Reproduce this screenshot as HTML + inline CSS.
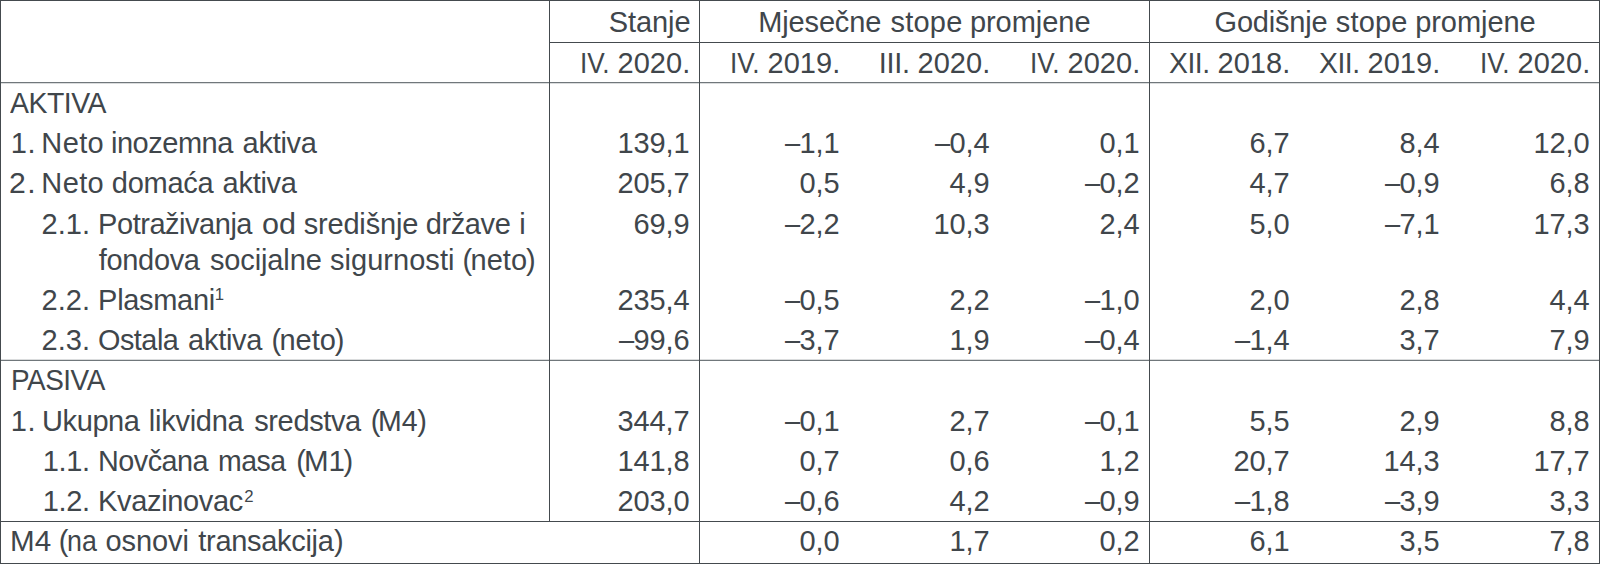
<!DOCTYPE html>
<html lang="hr"><head><meta charset="utf-8"><title>Monetarna kretanja</title>
<style>
html,body{margin:0;padding:0;background:#fff;}
body{width:1600px;height:564px;position:relative;overflow:hidden;font-family:"Liberation Sans",sans-serif;font-size:29.0px;color:#40464b;font-kerning:normal;}
.t{position:absolute;white-space:nowrap;line-height:1;height:29.0px;transform-origin:0 50%;}
.d{transform:scaleX(.94);transform-origin:100% 50%;}
.ln{position:absolute;background:#444a4e;}
</style></head><body>
<div class="ln" style="left:0;top:83px;width:1600px;height:1px;background:#dadcdd"></div>
<div class="ln" style="left:0;top:82px;width:1600px;height:1px;background:#70777b"></div>
<div class="ln" style="left:0;top:359px;width:1600px;height:1px;background:#dadcdd"></div>
<div class="ln" style="left:0;top:360px;width:1600px;height:1px;background:#70777b"></div>
<div class="ln" style="left:0px;top:0px;width:1600px;height:1px"></div>
<div class="ln" style="left:0px;top:563px;width:1600px;height:1px"></div>
<div class="ln" style="left:0px;top:0px;width:1px;height:564px"></div>
<div class="ln" style="left:1599px;top:0px;width:1px;height:564px"></div>
<div class="ln" style="left:549px;top:42px;width:1051px;height:1px"></div>
<div class="ln" style="left:0px;top:521px;width:1600px;height:1px"></div>
<div class="ln" style="left:549px;top:0px;width:1px;height:522px"></div>
<div class="ln" style="left:699px;top:0px;width:1px;height:564px"></div>
<div class="ln" style="left:1149px;top:0px;width:1px;height:564px"></div>
<div class="t" style="left:608.78px;top:8px;letter-spacing:-0.086px">Stanje</div>
<div class="t" style="left:758.37px;top:8px;letter-spacing:-0.173px">Mjesečne</div>
<div class="t" style="left:890.44px;top:8px;letter-spacing:0.223px">stope</div>
<div class="t" style="left:969.88px;top:8px;letter-spacing:-0.036px">promjene</div>
<div class="t" style="left:1214.54px;top:8px;letter-spacing:-0.210px">Godišnje</div>
<div class="t" style="left:1335.79px;top:8px;letter-spacing:0.186px">stope</div>
<div class="t" style="left:1415.13px;top:8px;letter-spacing:-0.050px">promjene</div>
<div class="t" style="left:580.48px;top:49px;transform:scaleX(0.9027)">IV.</div>
<div class="t" style="left:617.44px;top:49px;letter-spacing:0.082px">2020.</div>
<div class="t" style="left:730.48px;top:49px;transform:scaleX(0.9027)">IV.</div>
<div class="t" style="left:767.44px;top:49px;letter-spacing:0.082px">2019.</div>
<div class="t" style="left:878.82px;top:49px;letter-spacing:-0.337px">III.</div>
<div class="t" style="left:917.44px;top:49px;letter-spacing:0.082px">2020.</div>
<div class="t" style="left:1030.48px;top:49px;transform:scaleX(0.9027)">IV.</div>
<div class="t" style="left:1067.44px;top:49px;letter-spacing:0.082px">2020.</div>
<div class="t" style="left:1168.56px;top:49px;letter-spacing:-0.500px;transform:scaleX(0.9789)">XII.</div>
<div class="t" style="left:1217.44px;top:49px;letter-spacing:0.082px">2018.</div>
<div class="t" style="left:1318.56px;top:49px;letter-spacing:-0.500px;transform:scaleX(0.9789)">XII.</div>
<div class="t" style="left:1367.44px;top:49px;letter-spacing:0.082px">2019.</div>
<div class="t" style="left:1480.48px;top:49px;transform:scaleX(0.9027)">IV.</div>
<div class="t" style="left:1517.44px;top:49px;letter-spacing:0.082px">2020.</div>
<div class="t" style="left:9.84px;top:89px;letter-spacing:-0.500px;transform:scaleX(0.9798)">AKTIVA</div>
<div class="t" style="left:10.79px;top:129px;letter-spacing:0.669px">1.</div>
<div class="t" style="left:41.37px;top:129px;letter-spacing:0.360px">Neto</div>
<div class="t" style="left:111.06px;top:129px;letter-spacing:-0.500px">inozemna</div>
<div class="t" style="left:242.52px;top:129px;letter-spacing:-0.257px">aktiva</div>
<div class="t" style="left:9.23px;top:169px;letter-spacing:1.300px;transform:scaleX(1.0406)">2.</div>
<div class="t" style="left:41.37px;top:169px;letter-spacing:0.360px">Neto</div>
<div class="t" style="left:111.78px;top:169px;letter-spacing:-0.241px">domaća</div>
<div class="t" style="left:222.52px;top:169px;letter-spacing:-0.257px">aktiva</div>
<div class="t" style="left:41.54px;top:210px;letter-spacing:0.077px">2.1.</div>
<div class="t" style="left:98.12px;top:210px;letter-spacing:-0.474px">Potraživanja</div>
<div class="t" style="left:261.72px;top:210px;transform:scaleX(1.0539)">od</div>
<div class="t" style="left:303.69px;top:210px;letter-spacing:-0.183px">središnje</div>
<div class="t" style="left:425.78px;top:210px;letter-spacing:-0.408px">države</div>
<div class="t" style="left:519.28px;top:210px">i</div>
<div class="t" style="left:98.84px;top:246px;letter-spacing:-0.340px">fondova</div>
<div class="t" style="left:209.94px;top:246px;letter-spacing:-0.125px">socijalne</div>
<div class="t" style="left:329.94px;top:246px;letter-spacing:0.043px">sigurnosti</div>
<div class="t" style="left:462.45px;top:246px">(</div>
<div class="t" style="left:525.88px;top:246px">)</div>
<div class="t" style="left:470.52px;top:246px;letter-spacing:0.030px">neto</div>
<div class="t" style="left:41.54px;top:286px;letter-spacing:0.077px">2.2.</div>
<div class="t" style="left:98.12px;top:286px;letter-spacing:-0.314px">Plasmani</div>
<div class="t" style="left:41.54px;top:326px;letter-spacing:0.077px">2.3.</div>
<div class="t" style="left:97.88px;top:326px;letter-spacing:-0.500px;transform:scaleX(0.9943)">Ostala</div>
<div class="t" style="left:188.02px;top:326px;letter-spacing:-0.257px">aktiva</div>
<div class="t" style="left:271.45px;top:326px">(</div>
<div class="t" style="left:334.63px;top:326px">)</div>
<div class="t" style="left:279.52px;top:326px;letter-spacing:-0.053px">neto</div>
<div class="t" style="left:11.01px;top:366px;letter-spacing:-0.500px;transform:scaleX(0.9620)">PASIVA</div>
<div class="t" style="left:10.79px;top:407px;letter-spacing:0.669px">1.</div>
<div class="t" style="left:42.01px;top:407px;letter-spacing:-0.396px">Ukupna</div>
<div class="t" style="left:148.80px;top:407px;letter-spacing:-0.252px">likvidna</div>
<div class="t" style="left:254.19px;top:407px;letter-spacing:-0.365px">sredstva</div>
<div class="t" style="left:370.70px;top:407px">(</div>
<div class="t" style="left:417.13px;top:407px">)</div>
<div class="t" style="left:378.36px;top:407px;transform:scaleX(0.9820)">M4</div>
<div class="t" style="left:42.79px;top:447px;letter-spacing:-0.339px">1.1.</div>
<div class="t" style="left:98.14px;top:447px;letter-spacing:-0.500px;transform:scaleX(0.9923)">Novčana</div>
<div class="t" style="left:218.11px;top:447px;letter-spacing:-0.500px;transform:scaleX(0.9815)">masa</div>
<div class="t" style="left:296.20px;top:447px">(</div>
<div class="t" style="left:343.38px;top:447px">)</div>
<div class="t" style="left:303.78px;top:447px;transform:scaleX(1.0178)">M1</div>
<div class="t" style="left:42.79px;top:487px;letter-spacing:-0.339px">1.2.</div>
<div class="t" style="left:98.12px;top:487px;letter-spacing:-0.352px">Kvazinovac</div>
<div class="t" style="left:9.77px;top:527px;transform:scaleX(1.0197)">M4</div>
<div class="t" style="left:58.70px;top:527px">(</div>
<div class="t" style="left:66.92px;top:527px;transform:scaleX(0.9229)">na</div>
<div class="t" style="left:105.53px;top:527px;letter-spacing:-0.081px">osnovi</div>
<div class="t" style="left:333.88px;top:527px">)</div>
<div class="t" style="left:198.31px;top:527px;letter-spacing:-0.309px">transakcija</div>
<div class="t" style="left:214.81px;top:287px;font-size:16.76px;height:16.76px">1</div>
<div class="t" style="left:244.19px;top:489px;font-size:16.76px;height:16.76px">2</div>
<div class="t" style="left:617.43px;top:129px;letter-spacing:-0.100px">139,1</div>
<div class="t" style="left:799.49px;top:129px;letter-spacing:-0.100px">1,1</div>
<div class="t d" style="left:783.56px;top:129px">–</div>
<div class="t" style="left:949.49px;top:129px;letter-spacing:-0.100px">0,4</div>
<div class="t d" style="left:933.56px;top:129px">–</div>
<div class="t" style="left:1099.49px;top:129px;letter-spacing:-0.100px">0,1</div>
<div class="t" style="left:1249.49px;top:129px;letter-spacing:-0.100px">6,7</div>
<div class="t" style="left:1399.49px;top:129px;letter-spacing:-0.100px">8,4</div>
<div class="t" style="left:1533.46px;top:129px;letter-spacing:-0.100px">12,0</div>
<div class="t" style="left:617.43px;top:169px;letter-spacing:-0.100px">205,7</div>
<div class="t" style="left:799.49px;top:169px;letter-spacing:-0.100px">0,5</div>
<div class="t" style="left:949.49px;top:169px;letter-spacing:-0.100px">4,9</div>
<div class="t" style="left:1099.49px;top:169px;letter-spacing:-0.100px">0,2</div>
<div class="t d" style="left:1083.56px;top:169px">–</div>
<div class="t" style="left:1249.49px;top:169px;letter-spacing:-0.100px">4,7</div>
<div class="t" style="left:1399.49px;top:169px;letter-spacing:-0.100px">0,9</div>
<div class="t d" style="left:1383.56px;top:169px">–</div>
<div class="t" style="left:1549.49px;top:169px;letter-spacing:-0.100px">6,8</div>
<div class="t" style="left:633.46px;top:210px;letter-spacing:-0.100px">69,9</div>
<div class="t" style="left:799.49px;top:210px;letter-spacing:-0.100px">2,2</div>
<div class="t d" style="left:783.56px;top:210px">–</div>
<div class="t" style="left:933.46px;top:210px;letter-spacing:-0.100px">10,3</div>
<div class="t" style="left:1099.49px;top:210px;letter-spacing:-0.100px">2,4</div>
<div class="t" style="left:1249.49px;top:210px;letter-spacing:-0.100px">5,0</div>
<div class="t" style="left:1399.49px;top:210px;letter-spacing:-0.100px">7,1</div>
<div class="t d" style="left:1383.56px;top:210px">–</div>
<div class="t" style="left:1533.46px;top:210px;letter-spacing:-0.100px">17,3</div>
<div class="t" style="left:617.43px;top:286px;letter-spacing:-0.100px">235,4</div>
<div class="t" style="left:799.49px;top:286px;letter-spacing:-0.100px">0,5</div>
<div class="t d" style="left:783.56px;top:286px">–</div>
<div class="t" style="left:949.49px;top:286px;letter-spacing:-0.100px">2,2</div>
<div class="t" style="left:1099.49px;top:286px;letter-spacing:-0.100px">1,0</div>
<div class="t d" style="left:1083.56px;top:286px">–</div>
<div class="t" style="left:1249.49px;top:286px;letter-spacing:-0.100px">2,0</div>
<div class="t" style="left:1399.49px;top:286px;letter-spacing:-0.100px">2,8</div>
<div class="t" style="left:1549.49px;top:286px;letter-spacing:-0.100px">4,4</div>
<div class="t" style="left:633.46px;top:326px;letter-spacing:-0.100px">99,6</div>
<div class="t d" style="left:617.53px;top:326px">–</div>
<div class="t" style="left:799.49px;top:326px;letter-spacing:-0.100px">3,7</div>
<div class="t d" style="left:783.56px;top:326px">–</div>
<div class="t" style="left:949.49px;top:326px;letter-spacing:-0.100px">1,9</div>
<div class="t" style="left:1099.49px;top:326px;letter-spacing:-0.100px">0,4</div>
<div class="t d" style="left:1083.56px;top:326px">–</div>
<div class="t" style="left:1249.49px;top:326px;letter-spacing:-0.100px">1,4</div>
<div class="t d" style="left:1233.56px;top:326px">–</div>
<div class="t" style="left:1399.49px;top:326px;letter-spacing:-0.100px">3,7</div>
<div class="t" style="left:1549.49px;top:326px;letter-spacing:-0.100px">7,9</div>
<div class="t" style="left:617.43px;top:407px;letter-spacing:-0.100px">344,7</div>
<div class="t" style="left:799.49px;top:407px;letter-spacing:-0.100px">0,1</div>
<div class="t d" style="left:783.56px;top:407px">–</div>
<div class="t" style="left:949.49px;top:407px;letter-spacing:-0.100px">2,7</div>
<div class="t" style="left:1099.49px;top:407px;letter-spacing:-0.100px">0,1</div>
<div class="t d" style="left:1083.56px;top:407px">–</div>
<div class="t" style="left:1249.49px;top:407px;letter-spacing:-0.100px">5,5</div>
<div class="t" style="left:1399.49px;top:407px;letter-spacing:-0.100px">2,9</div>
<div class="t" style="left:1549.49px;top:407px;letter-spacing:-0.100px">8,8</div>
<div class="t" style="left:617.43px;top:447px;letter-spacing:-0.100px">141,8</div>
<div class="t" style="left:799.49px;top:447px;letter-spacing:-0.100px">0,7</div>
<div class="t" style="left:949.49px;top:447px;letter-spacing:-0.100px">0,6</div>
<div class="t" style="left:1099.49px;top:447px;letter-spacing:-0.100px">1,2</div>
<div class="t" style="left:1233.46px;top:447px;letter-spacing:-0.100px">20,7</div>
<div class="t" style="left:1383.46px;top:447px;letter-spacing:-0.100px">14,3</div>
<div class="t" style="left:1533.46px;top:447px;letter-spacing:-0.100px">17,7</div>
<div class="t" style="left:617.43px;top:487px;letter-spacing:-0.100px">203,0</div>
<div class="t" style="left:799.49px;top:487px;letter-spacing:-0.100px">0,6</div>
<div class="t d" style="left:783.56px;top:487px">–</div>
<div class="t" style="left:949.49px;top:487px;letter-spacing:-0.100px">4,2</div>
<div class="t" style="left:1099.49px;top:487px;letter-spacing:-0.100px">0,9</div>
<div class="t d" style="left:1083.56px;top:487px">–</div>
<div class="t" style="left:1249.49px;top:487px;letter-spacing:-0.100px">1,8</div>
<div class="t d" style="left:1233.56px;top:487px">–</div>
<div class="t" style="left:1399.49px;top:487px;letter-spacing:-0.100px">3,9</div>
<div class="t d" style="left:1383.56px;top:487px">–</div>
<div class="t" style="left:1549.49px;top:487px;letter-spacing:-0.100px">3,3</div>
<div class="t" style="left:799.49px;top:527px;letter-spacing:-0.100px">0,0</div>
<div class="t" style="left:949.49px;top:527px;letter-spacing:-0.100px">1,7</div>
<div class="t" style="left:1099.49px;top:527px;letter-spacing:-0.100px">0,2</div>
<div class="t" style="left:1249.49px;top:527px;letter-spacing:-0.100px">6,1</div>
<div class="t" style="left:1399.49px;top:527px;letter-spacing:-0.100px">3,5</div>
<div class="t" style="left:1549.49px;top:527px;letter-spacing:-0.100px">7,8</div>
</body></html>
